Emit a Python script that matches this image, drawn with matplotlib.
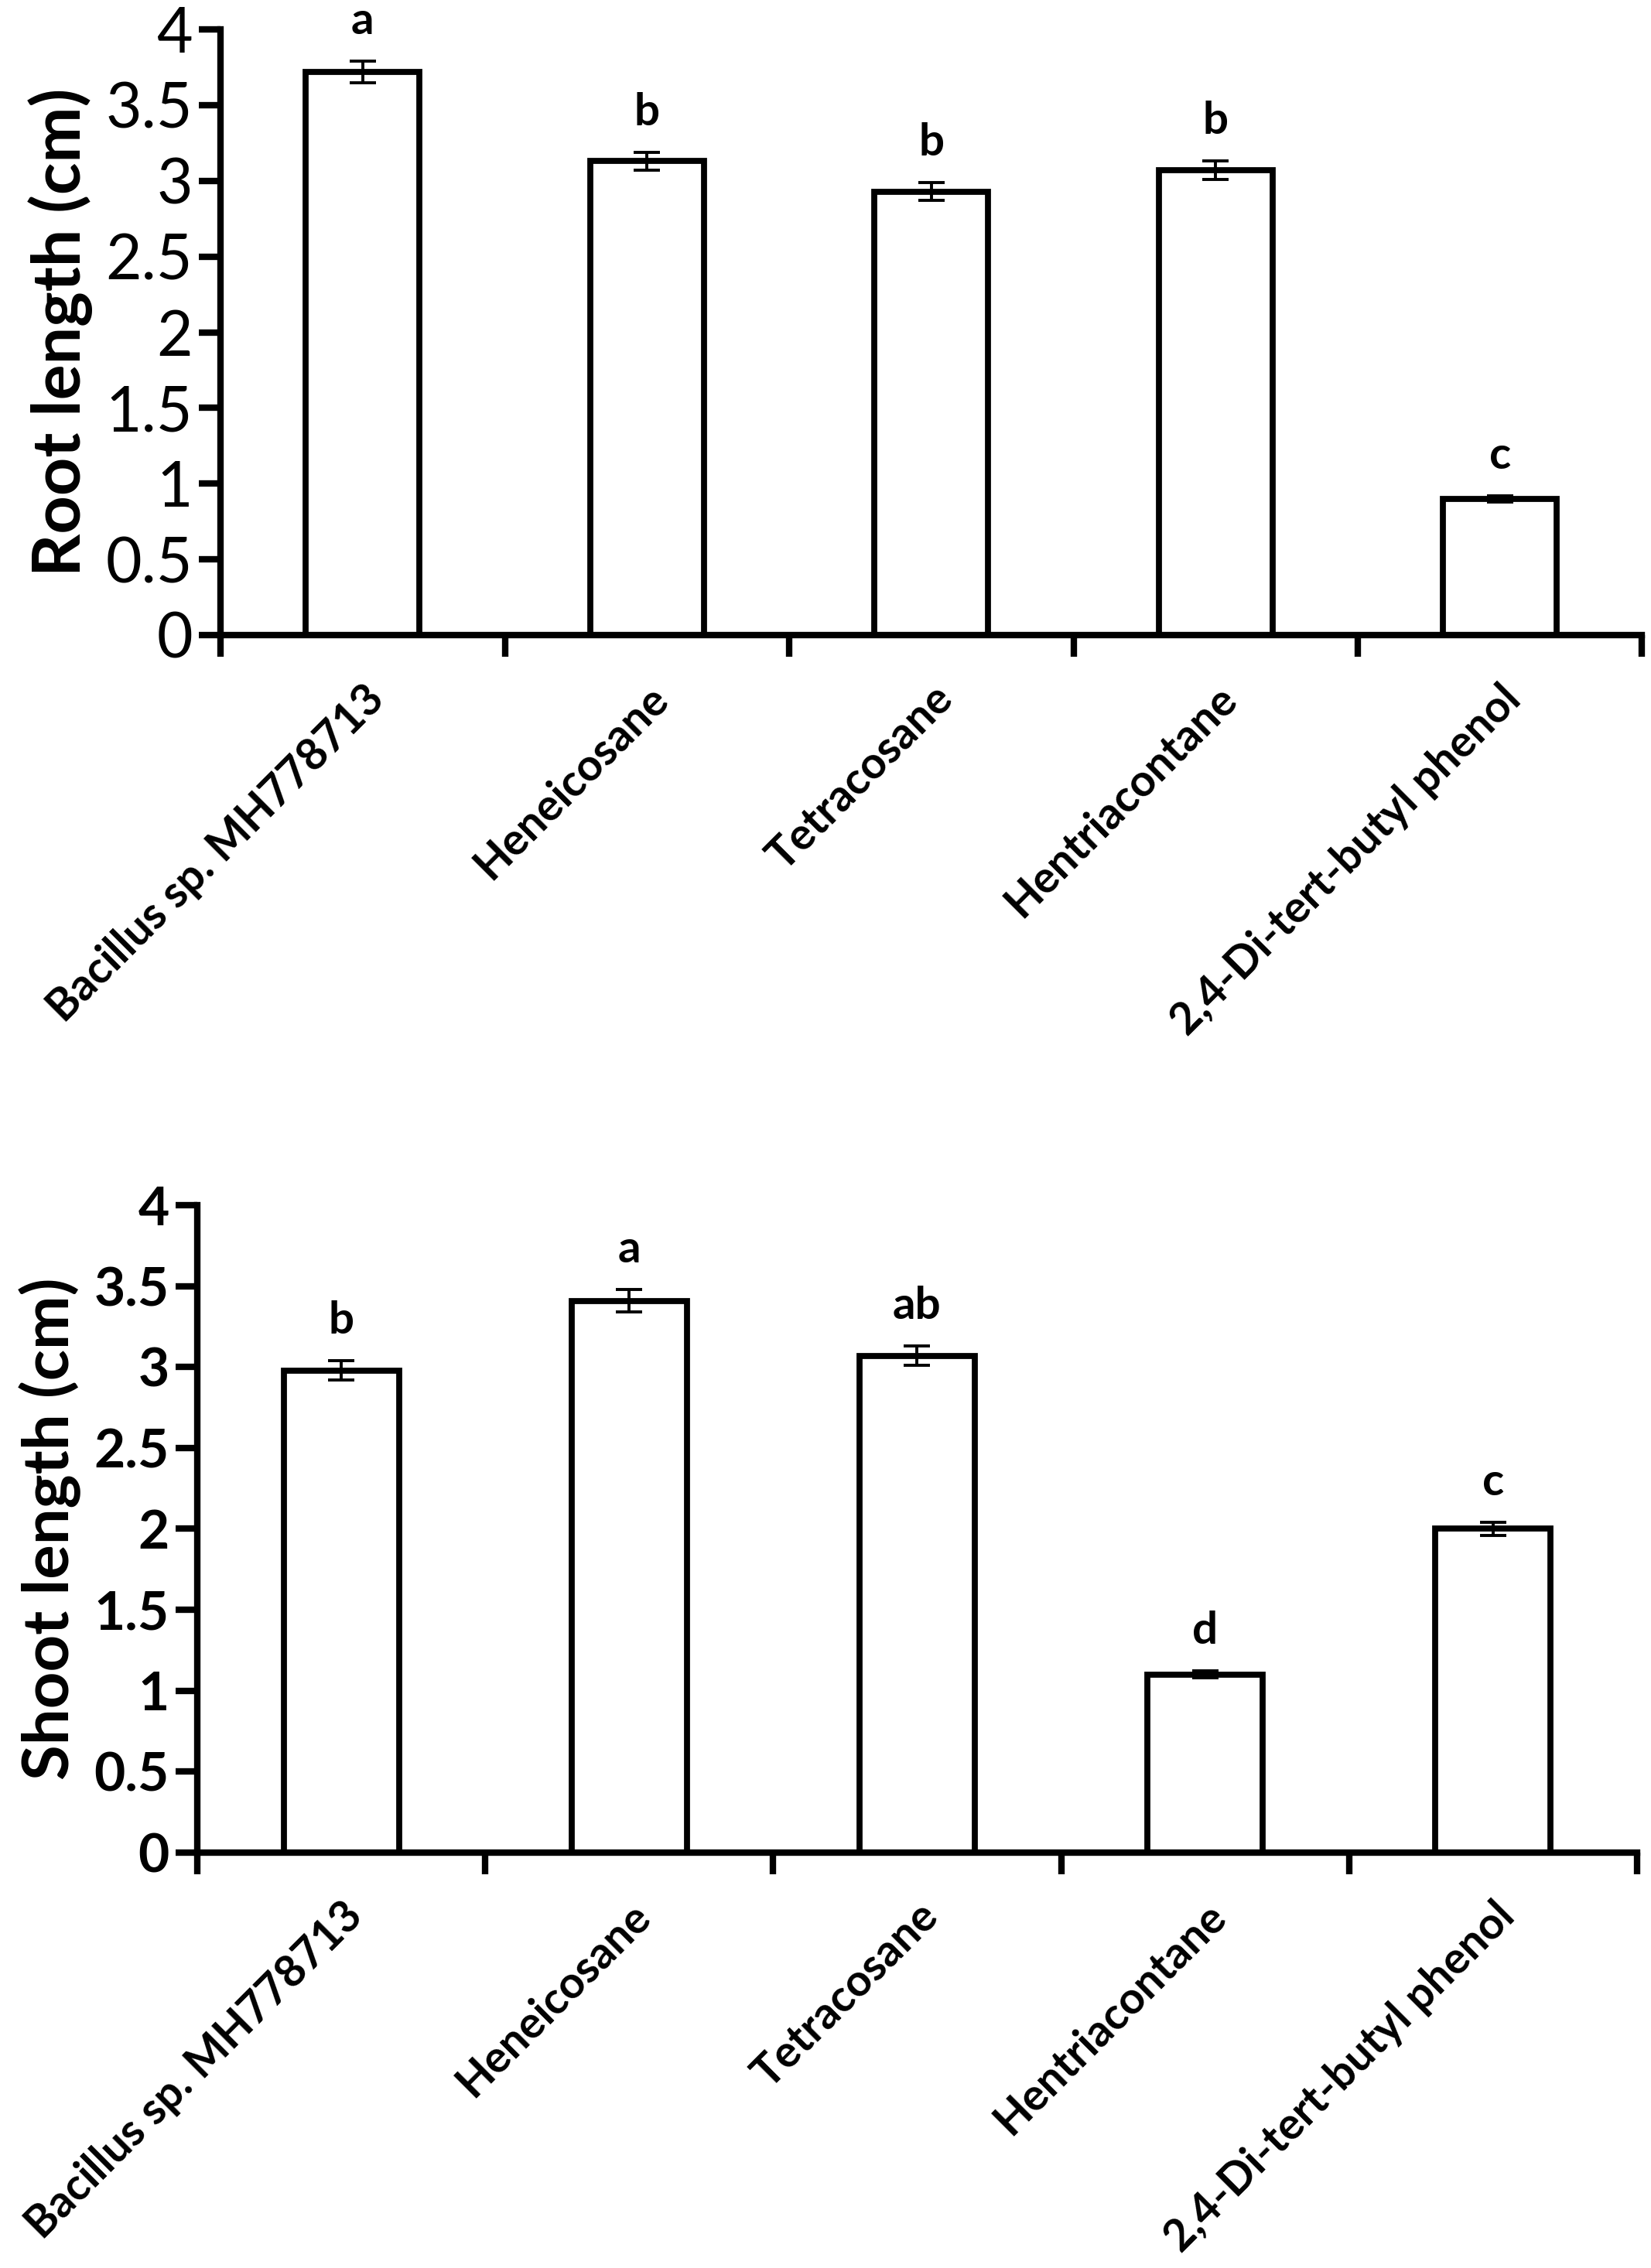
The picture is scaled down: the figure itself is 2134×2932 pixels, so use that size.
import numpy as np
import matplotlib.pyplot as plt

# =========================
# DATA
# =========================

categories = ["Bacillus sp. MH778713", "Heneicosane", "Tetracosane",
              "Hentriacontane", "2,4-Di-tert-butyl phenol"]

root_mean = [3.72, 3.13, 2.93, 3.07, 0.90]
root_err = [0.07, 0.06, 0.06, 0.06, 0.02]
root_letters = ["a", "b", "b", "b", "c"]

shoot_mean = [2.98, 3.41, 3.07, 1.10, 2.00]
shoot_err = [0.06, 0.07, 0.06, 0.02, 0.04]
shoot_letters = ["b", "a", "ab", "d", "c"]

yticks = np.arange(0, 4.01, 0.5)
ytick_labels = ["0", "0.5", "1", "1.5", "2", "2.5", "3", "3.5", "4"]

plt.rcParams["font.family"] = ["Lato", "DejaVu Sans"]

fig = plt.figure(figsize=(10.67, 14.66), dpi=200)

ax1 = fig.add_axes([0.1336, 0.72, 0.861, 0.267])
ax2 = fig.add_axes([0.1195, 0.1833, 0.872, 0.2852])


def draw_panel(ax, means, errs, letters, ylabel, tick_size, tick_weight, label_size):
    x = np.arange(len(categories))
    ax.bar(x, means, width=0.4, color="white", edgecolor="black",
           linewidth=2.8, zorder=2)
    ax.errorbar(x, means, yerr=errs, fmt="none", ecolor="black",
                elinewidth=1.4, capsize=6, capthick=1.4, zorder=3)
    for xi, m, e, lt in zip(x, means, errs, letters):
        ax.annotate(lt, (xi, m + e), xytext=(0, 9), textcoords="offset points",
                    ha="center", va="bottom", fontsize=21, fontweight="bold")

    ax.set_xlim(-0.5, len(categories) - 0.5)
    ax.set_ylim(0, 4)
    ax.set_yticks(yticks)
    ax.set_yticklabels(ytick_labels, fontsize=tick_size, fontweight=tick_weight)
    ax.set_xticks(np.arange(len(categories) + 1) - 0.5)
    ax.set_xticklabels([])
    ax.set_xticks(x, minor=True)
    ax.set_xticklabels(categories, minor=True, rotation=45, ha="right",
                       rotation_mode="anchor", fontsize=20.5, fontweight="bold")
    ax.tick_params(axis="x", which="minor", length=0, pad=20)
    ax.tick_params(axis="x", which="major", length=10, width=3, direction="out")
    ax.tick_params(axis="y", length=10, width=3, direction="out", pad=3)

    for side in ["top", "right"]:
        ax.spines[side].set_visible(False)
    for side in ["left", "bottom"]:
        ax.spines[side].set_linewidth(3)

    ax.set_ylabel(ylabel, fontsize=label_size, fontweight="bold", labelpad=6)


draw_panel(ax1, root_mean, root_err, root_letters, "Root length (cm)", 29, "normal", 31)
draw_panel(ax2, shoot_mean, shoot_err, shoot_letters, "Shoot length (cm)", 25, "bold", 30)

fig.savefig("out.png", dpi=200)
